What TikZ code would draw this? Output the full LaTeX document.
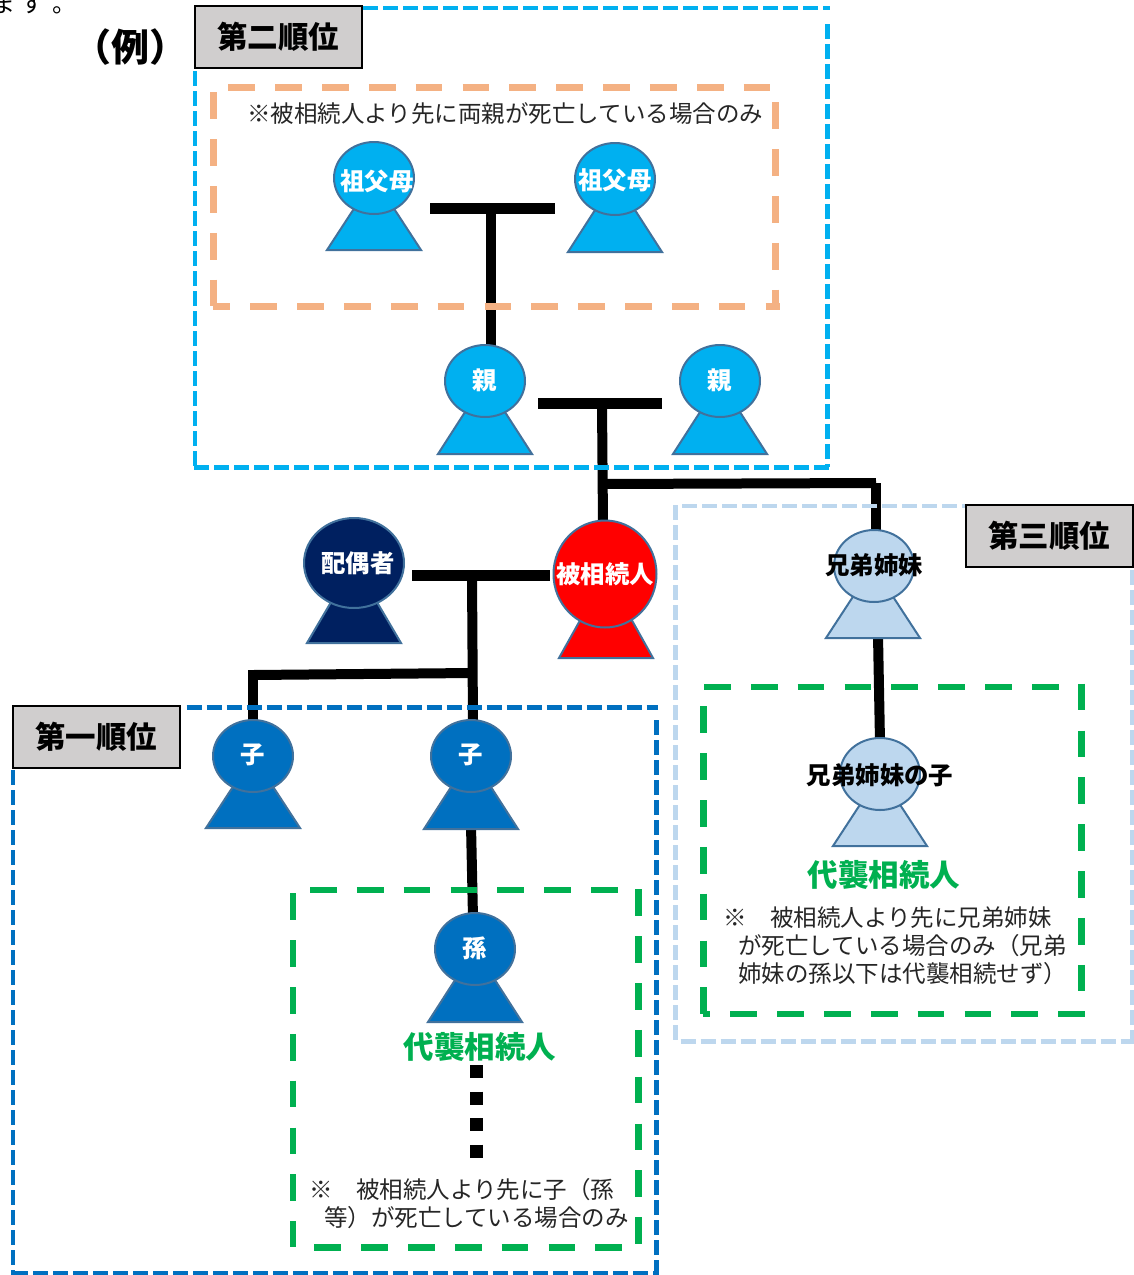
\documentclass[tikz,border=0pt]{standalone}
\usepackage{fontspec}
\setmainfont{Noto Sans CJK JP}
\usetikzlibrary{shapes.geometric}
\definecolor{sky}{HTML}{00B0F0}
\definecolor{navy}{HTML}{002060}
\definecolor{midblue}{HTML}{0070C0}
\definecolor{pale}{HTML}{BDD7EE}
\definecolor{outl}{HTML}{41719C}
\definecolor{orangeb}{HTML}{F4B183}
\definecolor{greenb}{HTML}{00B050}
\definecolor{tagfill}{HTML}{D0CECE}
\definecolor{note}{HTML}{262626}
\tikzset{
  head/.style={ellipse,draw=outl,line width=2pt,inner sep=0pt,minimum width=80pt,minimum height=72pt},
  bodyshape/.style={draw=outl,line width=2pt,line join=miter},
  plabel/.style={font=\fontsize{24.4}{28}\selectfont\bfseries,text=white,inner sep=0pt},
  kin/.style={line width=10pt,draw=black},
  couple/.style={line width=11pt,draw=black},
  thindash/.style={line width=4.8pt,dash pattern=on 15pt off 5pt},
  fatdash/.style={line width=6.7pt,dash pattern=on 26.7pt off 20.15pt},
  tag/.style={draw=black,line width=2pt,fill=tagfill,minimum width=167pt,minimum height=62pt,inner sep=0pt,font=\fontsize{30.5}{34}\selectfont\bfseries,text=black},
  heir/.style={font=\fontsize{30.5}{34}\selectfont\bfseries,text=greenb,inner sep=0pt},
  notetext/.style={font=\fontsize{23.5}{28}\selectfont,text=note,inner sep=0pt,align=left}
}
% name, head x, head y, base x, base y, fill
\newcommand{\person}[6]{%
  \path[bodyshape,fill=#6] (#4-47,#5) -- (#4+47,#5) -- (#4,#3) -- cycle;
  \node[head,fill=#6] (#1) at (#2,#3) {};
}
\begin{document}
\begin{tikzpicture}[x=1pt,y=-1pt]
\useasboundingbox (0,0) rectangle (1134,1275);
% connector ends
\coordinate (gpL) at (430,208); \coordinate (gpR) at (555,208); \coordinate (gpM) at (491,208); \coordinate (gpD) at (491,350);
\coordinate (paL) at (538,403); \coordinate (paR) at (662,403); \coordinate (paM) at (602,403); \coordinate (paD) at (603,525);
\coordinate (sibA) at (603,484); \coordinate (sibB) at (876,483); \coordinate (sibC) at (876,535);
\coordinate (spL) at (412,575); \coordinate (spR) at (550,575); \coordinate (spM) at (472,575); \coordinate (spD) at (473,725);
\coordinate (chA) at (472,673); \coordinate (chB) at (253,675); \coordinate (chC) at (253,670); \coordinate (chD) at (253,725);
\coordinate (kidA) at (471,825); \coordinate (kidB) at (473,918);
\coordinate (sbA) at (878,635); \coordinate (sbB) at (880,742);
\coordinate (dotA) at (476,1065); \coordinate (dotB) at (476,1158);
% kin lines
\draw[couple] (gpL) -- (gpR); \draw[kin] (gpM) -- (gpD);
\draw[couple] (paL) -- (paR); \draw[kin] (paM) -- (paD);
\draw[kin] (sibA) -- (sibB); \draw[kin] (sibB) -- (sibC);
\draw[couple] (spL) -- (spR); \draw[kin] (spM) -- (spD);
\draw[kin] (chA) -- (chB); \draw[kin] (chC) -- (chD);
\draw[kin] (kidA) -- (kidB);
\draw[kin] (sbA) -- (sbB);
\draw[line width=13pt,dash pattern=on 13pt off 13.5pt] (dotA) -- (dotB);
% pale frame
\begin{scope}[thindash,draw=pale]
\draw (682.3,506) -- (965,506);
\draw (675.7,505) -- (675.7,1044);
\draw (680.7,1041.7) -- (1134,1041.7);
\draw (1132.3,570) -- (1132.3,1042);
\end{scope}
% sky frame
\begin{scope}[thindash,draw=sky]
\draw (363,8) -- (830,8);
\draw (195,71) -- (195,468);
\draw (194,467.3) -- (830,467.3);
\draw (827.7,24) -- (827.7,467);
\end{scope}
% dark blue frame
\begin{scope}[thindash,draw=midblue]
\draw (186.7,707.3) -- (658,707.3);
\draw (656.7,720) -- (656.7,1275);
\draw (13,770) -- (13,1275);
\draw (13,1273.5) -- (656,1273.5);
\end{scope}
% orange frame
\begin{scope}[fatdash,draw=orangeb]
\draw (228.3,87.3) -- (770.3,87.3);
\draw (213.5,92.3) -- (213.5,306.5);
\draw[dash phase=9.6] (213,306.3) -- (779.5,306.3);
\draw (775.7,102.3) -- (775.7,309.8);
\end{scope}
% green frames
\begin{scope}[fatdash,draw=greenb]
\draw (310,890) -- (618,890);
\draw (293,893.3) -- (293,1247);
\draw (638.3,889.3) -- (638.3,1244);
\draw (314.3,1247.7) -- (622.3,1247.7);
\draw (704,687) -- (1058.7,687);
\draw (703.3,706.3) -- (703.3,1017);
\draw[dash phase=19.55] (703,1014) -- (1085,1014);
\draw (1081.7,683.7) -- (1081.7,991);
\end{scope}
% persons
\person{gmL}{374}{178}{374}{250}{sky}
\person{gmR}{615}{179}{615}{252}{sky}
\person{parL}{485}{381}{485}{454}{sky}
\person{parR}{720}{381}{720}{454}{sky}
\person{sib}{874}{566}{873}{638}{pale}
\person{sibk}{880}{774}{880}{846}{pale}
\person{kidL}{253}{756}{253}{828}{midblue}
\person{kidR}{471}{756}{471}{829}{midblue}
\person{gkid}{475}{949}{475}{1022}{midblue}
\path[bodyshape,fill=navy] (307,643) -- (401,643) -- (354,563) -- cycle;
\node[head,fill=navy,minimum width=100pt,minimum height=90pt] (spouse) at (354,563) {};
\path[bodyshape,fill=red] (559,658) -- (653,658) -- (606,574) -- cycle;
\node[head,fill=red,minimum width=103pt,minimum height=107pt] (dec) at (605,574) {};
% person labels
\node[plabel] (t1) at (377,181) {祖父母};
\node[plabel] (t2) at (615,180) {祖父母};
\node[plabel] (t3) at (485,380) {親};
\node[plabel] (t4) at (720,380) {親};
\node[plabel] (t5) at (358,563) {配偶者};
\node[plabel] (t6) at (605,574) {被相続人};
\node[plabel,text=black] (t7) at (874,565) {兄弟姉妹};
\node[plabel,text=black] (t8) at (880,775) {兄弟姉妹の子};
\node[plabel] (t9) at (253,755) {子};
\node[plabel] (t10) at (471,755) {子};
\node[plabel] (t11) at (475,948) {孫};
% tags
\node[tag] (tag2) at (278,37) {第二順位};
\node[tag] (tag1) at (96,737) {第一順位};
\node[tag] (tag3) at (1049,536) {第三順位};
% texts
\node[font=\fontsize{38}{42}\selectfont\bfseries,inner sep=0pt] (rei) at (130,47) {（例）};
\node[font=\fontsize{24}{28}\selectfont,anchor=base east,inner sep=0pt] (top) at (77,12) {ま\hspace{5pt}す\hspace{8pt}。};
\node[heir] (h1) at (480,1047) {代襲相続人};
\node[heir] (h2) at (884,875) {代襲相続人};
\node[notetext,anchor=base west] (n1) at (247,122) {※被相続人より先に両親が死亡している場合のみ};
\node[notetext,anchor=north west] (n2) at (309,1178) {※　被相続人より先に子（孫\\\hspace*{15pt}等）が死亡している場合のみ};
\node[notetext,anchor=north west] (n3) at (723,907) {※　被相続人より先に兄弟姉妹\\\hspace*{15pt}が死亡している場合のみ（兄弟\\\hspace*{15pt}姉妹の孫以下は代襲相続せず）};
\end{tikzpicture}
\end{document}
